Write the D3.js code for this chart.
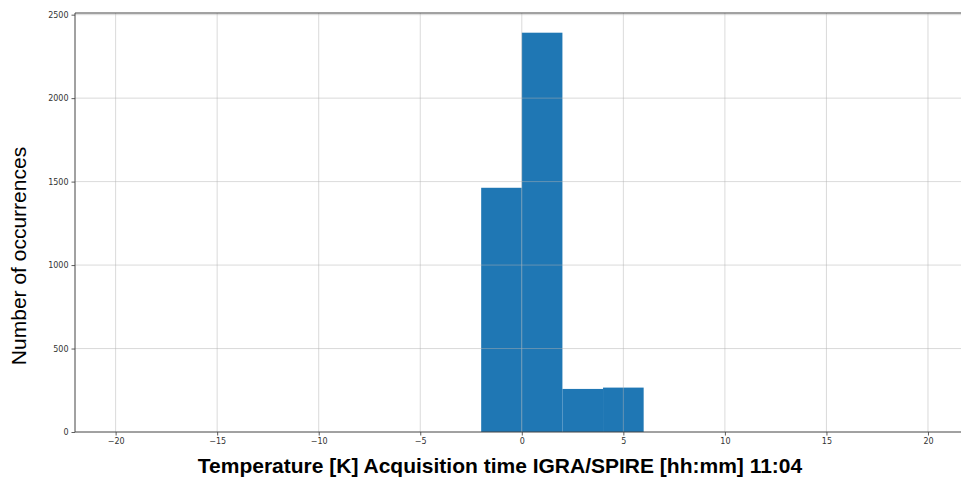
<!DOCTYPE html>
<html>
<head>
<meta charset="utf-8">
<script src="https://cdn.jsdelivr.net/npm/d3@7"></script>
<style>
  html, body { margin: 0; padding: 0; background: #fff; overflow: hidden; }
  svg { display: block; }
</style>
</head>
<body>
<svg id="chart" width="961" height="477"></svg>
<script>
// Histogram bins (left edge, right edge) and their counts
const binStarts = [-2, 0, 2, 4];
const binEnds = [0, 2, 4, 6];
const counts = [1463, 2392, 258, 266];

const xTicks = [-20, -15, -10, -5, 0, 5, 10, 15, 20];
const yTicks = [0, 500, 1000, 1500, 2000, 2500];

const xLabel = "Temperature [K] Acquisition time IGRA/SPIRE [hh:mm] 11:04";
const yLabel = "Number of occurrences";

const svg = d3.select("#chart");
const plotLeft = 75, plotTop = 13, plotBottom = 432;
const x = d3.scaleLinear().domain([-22, 22]).range([75, 968.6]);
const y = d3.scaleLinear().domain([0, 2510]).range([plotBottom, plotTop]);

const bins = counts.map((c, i) => ({ x0: binStarts[i], x1: binEnds[i], n: c }));

// bars
svg.append("g").selectAll("rect").data(bins).join("rect")
  .attr("x", d => x(d.x0))
  .attr("y", d => y(d.n))
  .attr("width", d => x(d.x1) - x(d.x0))
  .attr("height", d => y(0) - y(d.n))
  .attr("fill", "#1f77b4");

// grid drawn over the bars
const grid = svg.append("g").attr("stroke", "#b0b0b0").attr("stroke-opacity", 0.6).attr("stroke-width", 0.8);
grid.selectAll("line.gx").data(xTicks).join("line")
  .attr("class", "gx")
  .attr("x1", d => x(d)).attr("x2", d => x(d))
  .attr("y1", plotTop).attr("y2", plotBottom);
grid.selectAll("line.gy").data(yTicks.slice(1)).join("line")
  .attr("class", "gy")
  .attr("x1", plotLeft).attr("x2", 961)
  .attr("y1", d => y(d)).attr("y2", d => y(d));

// axes
const xAxis = d3.axisBottom(x).tickValues(xTicks).tickSize(3.5).tickPadding(3)
  .tickFormat(d => d < 0 ? "\u2212" + Math.abs(d) : d);
const yAxis = d3.axisLeft(y).tickValues(yTicks).tickSize(3.5).tickPadding(3)
  .tickFormat(d3.format("d"));

const gx = svg.append("g").attr("transform", `translate(0,${plotBottom})`).call(xAxis);
const gy = svg.append("g").attr("transform", `translate(${plotLeft},0)`).call(yAxis);
[gx, gy].forEach(g => {
  g.select(".domain").remove();
  g.selectAll(".tick line").attr("stroke", "#333").attr("stroke-width", 0.8);
  g.selectAll(".tick text").attr("fill", "#333")
    .style("font-family", "DejaVu Sans, sans-serif").style("font-size", "8px");
});

// spines
const spine = svg.append("g").attr("stroke", "#444").attr("stroke-width", 1);
spine.append("line").attr("x1", plotLeft).attr("x2", plotLeft).attr("y1", plotTop).attr("y2", plotBottom);
spine.append("line").attr("x1", plotLeft).attr("x2", 961).attr("y1", plotBottom).attr("y2", plotBottom);
spine.append("line").attr("x1", plotLeft).attr("x2", 961).attr("y1", plotTop).attr("y2", plotTop);

// axis titles
svg.append("text")
  .attr("x", 500).attr("y", 473)
  .attr("text-anchor", "middle")
  .style("font-family", "Liberation Sans, Arial, sans-serif")
  .style("font-weight", "bold").style("font-size", "21px")
  .text(xLabel);

svg.append("text")
  .attr("transform", "translate(26,256) rotate(-90)")
  .attr("text-anchor", "middle")
  .style("font-family", "Liberation Sans, Arial, sans-serif")
  .style("font-size", "21px")
  .text(yLabel);
</script>
</body>
</html>
